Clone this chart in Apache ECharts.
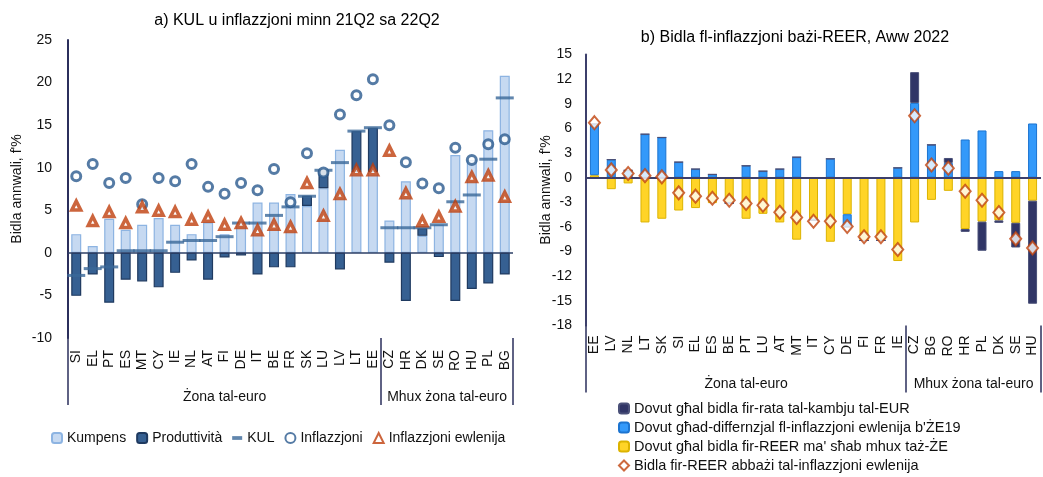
<!DOCTYPE html>
<html>
<head>
<meta charset="utf-8">
<script src="https://cdn.jsdelivr.net/npm/echarts@6/dist/echarts.min.js"></script>
<style>
html,body{margin:0;padding:0;background:#fff;}
#main{width:1043px;height:477px;}
</style>
</head>
<body>
<div id="main"></div>
<script>
// gruppi (zona tal-euro / mhux)
var gruppi = ['Żona tal-euro', 'Mhux żona tal-euro'];
var daqsGruppi = [19, 8];

// a) KUL u inflazzjoni
var pajjiziA = ['SI','EL','PT','ES','MT','CY','IE','NL','AT','FI','DE','IT','BE','FR','SK','LU','LV','LT','EE','CZ','HR','DK','SE','RO','HU','PL','BG'];
var kumpens = [2.2, 0.8, 4.0, 2.7, 3.3, 4.1, 3.3, 2.2, 3.6, 2.2, 3.2, 5.9, 5.9, 6.9, 5.5, 7.6, 12.1, 9.5, 9.5, 3.8, 8.4, 2.0, 3.3, 11.5, 10.9, 14.4, 20.8];
var produttivita = [-5.05, -2.55, -5.85, -3.15, -3.35, -4.05, -2.35, -0.9, -3.15, -0.55, -0.3, -2.55, -1.7, -1.7, 1.2, 2.1, -1.95, 4.8, 5.2, -1.15, -5.65, 0.9, -0.5, -5.65, -4.25, -3.6, -2.55];
var kul = [-2.65, -1.85, -1.65, 0.25, 0.25, 0.25, 1.25, 1.45, 1.45, 1.9, 3.5, 3.5, 4.4, 5.4, 6.65, 9.7, 10.6, 14.3, 14.7, 2.95, 2.95, 2.95, 3.3, 6.0, 6.8, 11.0, 18.2];
var inflazzjoni = [9.0, 10.45, 8.2, 8.8, 5.7, 8.8, 8.4, 10.45, 7.75, 6.95, 8.2, 7.35, 9.85, 5.95, 11.7, 9.45, 16.25, 18.5, 20.4, 15.0, 10.65, 8.15, 7.6, 12.35, 10.9, 12.75, 13.35];
var ewlenija = [5.55, 3.75, 4.8, 3.5, 5.35, 4.95, 4.8, 3.9, 4.25, 3.3, 3.5, 2.65, 3.3, 3.05, 8.2, 4.35, 6.9, 9.7, 9.7, 12.0, 7.0, 3.7, 4.25, 5.45, 8.9, 9.1, 6.6];

// b) bidla fl-inflazzjoni bazi-REER
var pajjiziB = ['EE','LV','NL','LT','SK','SI','EL','ES','BE','PT','LU','AT','MT','IT','CY','DE','FI','FR','IE','CZ','BG','RO','HR','PL','DK','SE','HU'];
var rataEUR = [0,0,0,0,0,0,0,0,0,0,0,0,0,0,0,0,0,0,0, 3.75, 0, 0.6, -0.35, -3.55, -0.3, -3.0, -12.55];
var differenzjal = [6.25, 2.2, 0.9, 5.3, 4.9, 1.9, 1.05, 0.4, 0, 1.45, 0.8, 1.05, 2.5, -0.2, 2.3, -1.55, 0, 0, 1.2, 9.1, 4.0, 1.8, 4.65, 5.75, 0.8, 0.8, 6.6];
var reerMhuxZE = [0.3, -1.4, -0.7, -5.45, -5.0, -4.0, -3.7, -3.1, -3.1, -5.0, -4.4, -5.45, -7.55, -5.0, -7.8, -4.45, -7.65, -7.65, -10.15, -5.45, -2.7, -1.6, -6.25, -5.35, -5.2, -5.5, -2.8];
var reerEwlenija = [6.7, 0.95, 0.5, 0.25, 0.1, -1.85, -2.25, -2.5, -2.75, -3.15, -3.35, -4.2, -4.85, -5.3, -5.3, -5.95, -7.2, -7.2, -8.75, 7.55, 1.55, 1.15, -1.65, -2.75, -4.25, -7.45, -8.55];

// konfini u nofsijiet tal-gruppi
var konfini = [0], nofsijiet = [];
daqsGruppi.forEach(function (n, i) {
    nofsijiet.push(konfini[i] + n / 2);
    konfini.push(konfini[i] + n);
});
var total = konfini[konfini.length - 1];

var FONT = 'Liberation Sans';
var AXC = '#2b2f5c';
var TXT = '#111';

function catAxis(grid, data, margin) {
    return {
        type: 'category', gridIndex: grid, data: data, position: 'bottom',
        axisLine: {show: false, onZero: false},
        axisTick: {show: false},
        axisLabel: {rotate: 90, margin: margin, fontSize: 14, color: TXT, interval: 0}
    };
}
function groupAxis(grid) {
    return {
        type: 'value', gridIndex: grid, min: 0, max: total, position: 'bottom',
        axisLine: {show: false, onZero: false},
        splitLine: {show: false},
        axisTick: {show: true, customValues: konfini, length: 67, lineStyle: {color: AXC, width: 1.5}},
        axisLabel: {
            customValues: nofsijiet, margin: 52, fontSize: 14, color: TXT,
            formatter: function (v) {
                for (var i = 0; i < nofsijiet.length; i++) { if (Math.abs(nofsijiet[i] - v) < 0.01) return gruppi[i]; }
                return '';
            }
        }
    };
}
function zeroLine(color, width) {
    return {
        silent: true, symbol: 'none', label: {show: false},
        lineStyle: {color: color, width: width, type: 'solid'},
        data: [{yAxis: 0}]
    };
}

var chart = echarts.init(document.getElementById('main'));
chart.setOption({
    animation: false,
    textStyle: {fontFamily: FONT},
    title: [
        {text: 'a) KUL u inflazzjoni minn 21Q2 sa 22Q2', left: 292, top: 8, textAlign: 'center',
         textStyle: {fontSize: 16, fontWeight: 'normal', color: '#000', fontFamily: FONT}},
        {text: 'b) Bidla fl-inflazzjoni bażi-REER, Aww 2022', left: 790, top: 25, textAlign: 'center',
         textStyle: {fontSize: 16, fontWeight: 'normal', color: '#000', fontFamily: FONT}}
    ],
    legend: [
        {
            left: 46, top: 426, itemWidth: 10, itemHeight: 10, itemGap: 10,
            textStyle: {fontSize: 14, color: TXT},
            data: ['Kumpens', 'Produttività',
                   {name: 'KUL', icon: 'path://M0,0h8v3h-8z'},
                   'Inflazzjoni', 'Inflazzjoni ewlenija']
        },
        {
            orient: 'vertical', left: 618, top: 401, height: 100, padding: 0,
            itemWidth: 10, itemHeight: 10, itemGap: 4,
            textStyle: {fontSize: 14.5, color: TXT},
            data: ['Dovut għal bidla fir-rata tal-kambju tal-EUR',
                   "Dovut għad-differnzjal fl-inflazzjoni ewlenija b'ŻE19",
                   "Dovut għal bidla fir-REER ma' sħab mhux taż-ŻE",
                   {name: 'Bidla fir-REER abbażi tal-inflazzjoni ewlenija', icon: 'diamond'}]
        }
    ],
    grid: [
        {left: 68, right: 530, top: 40, height: 298},
        {left: 586, right: 2, top: 54.5, height: 271}
    ],
    xAxis: [catAxis(0, pajjiziA, 12), groupAxis(0), catAxis(1, pajjiziB, 10), groupAxis(1)],
    yAxis: [
        {
            type: 'value', gridIndex: 0, min: -10, max: 25, interval: 5,
            name: "Bidla annwali, f'%", nameLocation: 'middle', nameGap: 44,
            nameTextStyle: {fontSize: 14, color: TXT},
            axisLine: {show: true, onZero: false, lineStyle: {color: AXC, width: 2}},
            axisTick: {show: false}, splitLine: {show: false},
            axisLabel: {fontSize: 14, color: TXT, margin: 16}
        },
        {
            type: 'value', gridIndex: 1, min: -18, max: 15, interval: 3,
            name: "Bidla annwali, f'%", nameLocation: 'middle', nameGap: 33, nameMoveOverlap: false,
            nameTextStyle: {fontSize: 14, color: TXT},
            axisLine: {show: true, onZero: false, lineStyle: {color: '#3c3f6b', width: 2}},
            axisTick: {show: false}, splitLine: {show: false},
            axisLabel: {fontSize: 14, color: TXT, margin: 14}
        }
    ],
    series: [
        // a)
        {name: 'Kumpens', type: 'bar', xAxisIndex: 0, yAxisIndex: 0, stack: 'a', barWidth: 10,
         itemStyle: {color: '#c6d9f1', borderColor: '#8db4e2', borderWidth: 1.2},
         data: kumpens, markLine: zeroLine('#2c3f66', 1.5)},
        {name: 'Produttività', type: 'bar', xAxisIndex: 0, yAxisIndex: 0, stack: 'a', barWidth: 10,
         itemStyle: {color: '#366092', borderColor: '#1f3a60', borderWidth: 1.2},
         data: produttivita},
        {name: 'KUL', type: 'scatter', xAxisIndex: 0, yAxisIndex: 0, symbol: 'rect', symbolSize: [18, 3], z: 3,
         itemStyle: {color: '#3a6898'}, data: kul},
        {name: 'Inflazzjoni', type: 'scatter', xAxisIndex: 0, yAxisIndex: 0, symbol: 'circle', symbolSize: 9, z: 4,
         itemStyle: {color: '#fff', borderColor: '#2a5a8e', borderWidth: 3}, data: inflazzjoni},
        {name: 'Inflazzjoni ewlenija', type: 'scatter', xAxisIndex: 0, yAxisIndex: 0, symbol: 'triangle', symbolSize: 9, z: 5,
         itemStyle: {color: '#fff', borderColor: '#bf3f0c', borderWidth: 3.5}, data: ewlenija},
        // b)
        {name: "Dovut għal bidla fir-REER ma' sħab mhux taż-ŻE", type: 'bar', xAxisIndex: 2, yAxisIndex: 1, stack: 'b', barWidth: 9,
         itemStyle: {color: '#ffd427', borderColor: '#dcb300', borderWidth: 1},
         data: reerMhuxZE, markLine: zeroLine('#3c3f6b', 2)},
        {name: "Dovut għad-differnzjal fl-inflazzjoni ewlenija b'ŻE19", type: 'bar', xAxisIndex: 2, yAxisIndex: 1, stack: 'b', barWidth: 9,
         itemStyle: {color: '#3399fa', borderColor: '#1c74d0', borderWidth: 1},
         data: differenzjal},
        {name: 'Dovut għal bidla fir-rata tal-kambju tal-EUR', type: 'bar', xAxisIndex: 2, yAxisIndex: 1, stack: 'b', barWidth: 9,
         itemStyle: {color: '#303566', borderColor: '#4a5078', borderWidth: 1},
         data: rataEUR},
        {name: 'Bidla fir-REER abbażi tal-inflazzjoni ewlenija', type: 'scatter', xAxisIndex: 2, yAxisIndex: 1, symbol: 'diamond', symbolSize: [11, 13], z: 5,
         itemStyle: {color: '#fff', borderColor: '#c0440e', borderWidth: 2}, data: reerEwlenija}
    ]
});
</script>
</body>
</html>
